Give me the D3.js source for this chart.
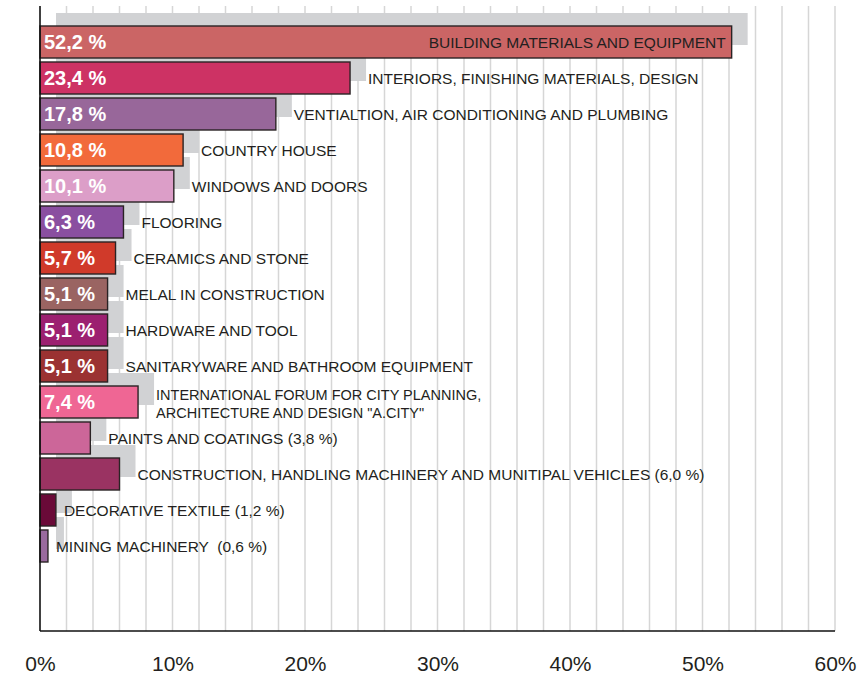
<!DOCTYPE html>
<html>
<head>
<meta charset="utf-8">
<script src="https://cdn.jsdelivr.net/npm/d3@7"></script>
<style>
  body { margin: 0; background: #fff; }
  svg { display: block; font-family: "Liberation Sans", Arial, sans-serif; }
  text { white-space: pre; }
</style>
</head>
<body>
<div id="chart"></div>
<script>
// shares of exhibitors by section, %
const categories = [
    'BUILDING MATERIALS AND EQUIPMENT',
    'INTERIORS, FINISHING MATERIALS, DESIGN',
    'VENTIALTION, AIR CONDITIONING AND PLUMBING',
    'COUNTRY HOUSE',
    'WINDOWS AND DOORS',
    'FLOORING',
    'CERAMICS AND STONE',
    'MELAL IN CONSTRUCTION',
    'HARDWARE AND TOOL',
    'SANITARYWARE AND BATHROOM EQUIPMENT',
    'INTERNATIONAL FORUM FOR CITY PLANNING,|ARCHITECTURE AND DESIGN "A.CITY"',
    'PAINTS AND COATINGS (3,8 %)',
    'CONSTRUCTION, HANDLING MACHINERY AND MUNITIPAL VEHICLES (6,0 %)',
    'DECORATIVE TEXTILE (1,2 %)',
    'MINING MACHINERY  (0,6 %)'
];
const values = [52.2, 23.4, 17.8, 10.8, 10.1, 6.3, 5.7, 5.1, 5.1, 5.1, 7.4, 3.8, 6.0, 1.2, 0.6];
const valueLabels = ['52,2 %', '23,4 %', '17,8 %', '10,8 %', '10,1 %', '6,3 %', '5,7 %', '5,1 %', '5,1 %', '5,1 %', '7,4 %', '', '', '', ''];
const colors = ['#cb6565', '#cd3264', '#98679a', '#f26a3b', '#dc9ec8', '#8a4fa0', '#d03a2a', '#9a6462',
    '#9c2070', '#9b3232', '#ef6694', '#cc6699', '#9a3362', '#6a0a38', '#9a6a9e'];
const xTicks = [0, 10, 20, 30, 40, 50, 60];

const width = 866, height = 674;
const x0 = 40, x1 = 835, yTop = 6, yBase = 631;
const shadowDx = 16, shadowDy = -13;

const svg = d3.select('#chart').append('svg')
    .attr('width', width)
    .attr('height', height);

const x = d3.scaleLinear().domain([0, 60]).range([x0, x1]);
const y = d3.scaleBand()
    .domain(d3.range(categories.length))
    .range([24, 564])
    .paddingInner(4 / 36)
    .paddingOuter(2 / 36);

// vertical grid every 2 %
svg.append('g')
    .selectAll('line')
    .data(d3.range(2, 61, 2))
    .join('line')
    .attr('x1', d => x(d))
    .attr('x2', d => x(d))
    .attr('y1', yTop)
    .attr('y2', yBase)
    .attr('stroke', '#d6d6d6')
    .attr('stroke-width', 1.5);

// grey shadows
svg.append('g')
    .selectAll('rect')
    .data(values)
    .join('rect')
    .attr('x', x(0) + shadowDx)
    .attr('y', (d, i) => y(i) + shadowDy)
    .attr('width', d => x(d) - x(0))
    .attr('height', y.bandwidth())
    .attr('fill', '#d1d2d4');

// bars
svg.append('g')
    .selectAll('rect')
    .data(values)
    .join('rect')
    .attr('x', x(0))
    .attr('y', (d, i) => y(i))
    .attr('width', d => x(d) - x(0))
    .attr('height', y.bandwidth())
    .attr('fill', (d, i) => colors[i])
    .attr('stroke', '#2a2324')
    .attr('stroke-width', 1.4);

// axes lines
svg.append('line')
    .attr('x1', x0).attr('x2', x0)
    .attr('y1', yTop).attr('y2', yBase)
    .attr('stroke', '#111').attr('stroke-width', 1.6);
svg.append('line')
    .attr('x1', x0).attr('x2', x1)
    .attr('y1', yBase).attr('y2', yBase)
    .attr('stroke', '#111').attr('stroke-width', 1.6);

const xAxis = svg.append('g')
    .attr('transform', `translate(0,${yBase})`)
    .call(d3.axisBottom(x).tickValues(xTicks).tickSize(0).tickPadding(25).tickFormat(d => d + '%'));
xAxis.select('.domain').remove();
xAxis.selectAll('text')
    .attr('fill', '#231f20')
    .style('font-size', '21px')
    .style('font-family', '"Liberation Sans", Arial, sans-serif');

// value labels inside bars
svg.append('g')
    .selectAll('text')
    .data(valueLabels)
    .join('text')
    .attr('x', x0 + 4)
    .attr('y', (d, i) => y(i) + y.bandwidth() / 2 + 7)
    .attr('fill', '#fff')
    .style('font-size', '20px')
    .style('font-weight', 'bold')
    .text(d => d);

// category labels: first one sits inside its bar, tiny bars get a tighter gap
const labelX = i => {
    if (i === 0) return x(values[i]) - 6;
    return x(values[i]) + (values[i] < 2 ? 8 : shadowDx + 2);
};
const labels = svg.append('g')
    .selectAll('text')
    .data(categories)
    .join('text')
    .attr('fill', '#231f20')
    .style('font-size', '15.5px')
    .attr('text-anchor', (d, i) => i === 0 ? 'end' : 'start')
    .attr('x', (d, i) => labelX(i))
    .attr('y', (d, i) => y(i) + y.bandwidth() / 2 + 6);

labels.each(function(d, i) {
    const parts = d.split('|');
    const t = d3.select(this);
    if (parts.length === 1) {
        t.text(d);
        return;
    }
    t.style('font-size', '14.5px');
    parts.forEach((p, k) => {
        t.append('tspan')
            .attr('x', t.attr('x'))
            .attr('y', y(i) + y.bandwidth() / 2 - 2 + k * 18)
            .text(p);
    });
});
</script>
</body>
</html>
